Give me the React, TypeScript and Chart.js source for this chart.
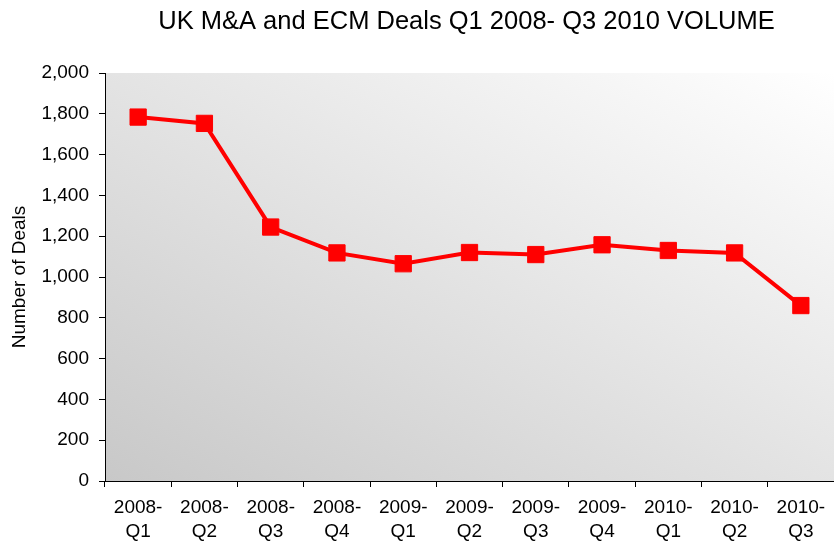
import React, { useEffect, useRef } from "react";
import { Chart, registerables } from "chart.js";

Chart.register(...registerables);

const TITLE = "UK M&A and ECM Deals Q1 2008- Q3 2010 VOLUME";
const Y_TITLE = "Number of Deals";
const CATEGORIES: string[][] = [
  ["2008-", "Q1"], ["2008-", "Q2"], ["2008-", "Q3"], ["2008-", "Q4"],
  ["2009-", "Q1"], ["2009-", "Q2"], ["2009-", "Q3"], ["2009-", "Q4"],
  ["2010-", "Q1"], ["2010-", "Q2"], ["2010-", "Q3"],
];
const VOLUME = [1784, 1753, 1245, 1118, 1065, 1120, 1110, 1158, 1130, 1118, 860];
const Y_MIN = 0;
const Y_MAX = 2000;
const Y_STEP = 200;

const FONT = "'Liberation Sans', Arial, sans-serif";

const backgroundPlugin = {
  id: "areaGradient",
  beforeDraw(chart: any) {
    const { ctx, chartArea } = chart;
    if (!chartArea) return;
    const { left, right, top, bottom } = chartArea;
    const w = right - left;
    const h = bottom - top;
    const L2 = w * w + h * h;
    const x1 = left + (2 * w * h * h) / L2;
    const y1 = bottom - (2 * w * w * h) / L2;
    const g = ctx.createLinearGradient(left, bottom, x1, y1);
    g.addColorStop(0, "#c8c8c8");
    g.addColorStop(1, "#ffffff");
    ctx.save();
    ctx.fillStyle = g;
    ctx.fillRect(left, top, w, h);
    ctx.restore();
  },
  afterDraw(chart: any) {
    const { ctx, chartArea } = chart;
    ctx.save();
    ctx.fillStyle = "#000";
    ctx.font = `25.5px ${FONT}`;
    ctx.textAlign = "center";
    ctx.textBaseline = "alphabetic";
    ctx.fillText(TITLE, (chartArea.left + chartArea.right) / 2 - 3, 29);
    ctx.restore();
  },
};

export default function App() {
  const ref = useRef<HTMLCanvasElement | null>(null);
  useEffect(() => {
    if (!ref.current) return;
    const chart = new Chart(ref.current, {
      type: "line",
      data: {
        labels: CATEGORIES,
        datasets: [
          {
            data: VOLUME,
            borderColor: "#ff0000",
            backgroundColor: "#ff0000",
            borderWidth: 4,
            pointStyle: "rect",
            pointRadius: 11.5,
            pointBorderWidth: 1,
            pointBorderColor: "#ff0000",
            pointBackgroundColor: "#ff0000",
            tension: 0,
            fill: false,
          },
        ],
      },
      options: {
        animation: false,
        responsive: false,
        devicePixelRatio: 1,
        layout: { autoPadding: false, padding: { top: 73, left: 0, right: 0, bottom: 0 } },
        plugins: {
          legend: { display: false },
          title: { display: false },
          tooltip: { enabled: false },
        },
        scales: {
          x: {
            type: "category",
            offset: true,
            grid: {
              offset: true,
              drawOnChartArea: false,
              drawTicks: true,
              tickLength: 6,
              tickColor: "#000",
              color: "#000",
            },
            border: { display: true, color: "#000", width: 1 },
            ticks: {
              autoSkip: false,
              maxRotation: 0,
              minRotation: 0,
              padding: 9,
              color: "#000",
              font: { family: FONT, size: 19, lineHeight: 1.26 },
            },
            afterFit(scale: any) {
              scale.height = 67;
              scale.paddingLeft = 0;
              scale.paddingRight = 0;
            },
          },
          y: {
            min: Y_MIN,
            max: Y_MAX,
            ticks: {
              stepSize: Y_STEP,
              padding: 10,
              color: "#000",
              font: { family: FONT, size: 19 },
            },
            grid: {
              drawOnChartArea: false,
              drawTicks: true,
              tickLength: 6,
              tickColor: "#000",
              color: "#000",
            },
            border: { display: true, color: "#000", width: 1 },
            title: {
              display: true,
              text: Y_TITLE,
              color: "#000",
              font: { family: FONT, size: 19 },
              padding: { top: 8, bottom: 4 },
            },
            afterFit(scale: any) {
              scale.width = 105;
              scale.paddingTop = 0;
              scale.paddingBottom = 0;
            },
          },
        },
      },
      plugins: [backgroundPlugin],
    });
    return () => chart.destroy();
  }, []);
  return (
    <div style={{ position: "fixed", left: 0, top: 0, width: 834, height: 548, background: "#fff" }}>
      <canvas ref={ref} width={834} height={548} style={{ display: "block", width: 834, height: 548 }} />
    </div>
  );
}
